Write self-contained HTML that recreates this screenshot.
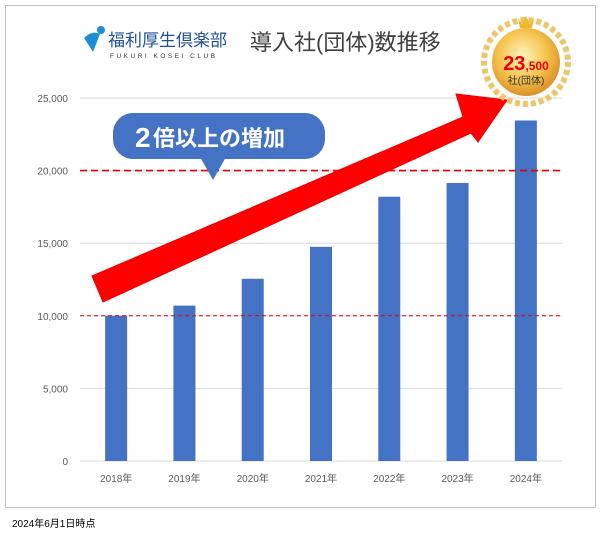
<!DOCTYPE html>
<html><head><meta charset="utf-8"><style>
body{margin:0;background:#fff;width:602px;height:533px;overflow:hidden;font-family:"Liberation Sans","Noto Sans CJK JP",sans-serif}
</style></head><body>
<svg width="602" height="533" xmlns="http://www.w3.org/2000/svg" font-family="Liberation Sans, Noto Sans CJK JP, sans-serif">
<defs>
<radialGradient id="gold" cx="45%" cy="40%" r="60%"><stop offset="0" stop-color="#fff4c0"/><stop offset="0.6" stop-color="#f6c24a"/><stop offset="1" stop-color="#d9922a"/></radialGradient>
</defs>
<rect x="5.5" y="5.5" width="590" height="502" fill="#fff" stroke="#bfbfbf"/>
<g>
<path d="M84 38 Q92 30 100 34 L93 52 Z" fill="#1a8fd8"/>
<circle cx="101" cy="30" r="4" fill="#1a8fd8"/>
<text x="108" y="46" font-size="17" fill="#1f4e9a">福利厚生倶楽部</text>
<text x="110" y="58" font-size="6.5" fill="#333" letter-spacing="2.5">FUKURI KOSEI CLUB</text>
</g>
<text x="250" y="50" font-size="22" fill="#404040">導入社(団体)数推移</text>
<g id="grid"></g>
<g id="bars"></g>
<g id="ticks"></g>
<g>
<polygon points="92,276 463,117 456,94 507,100 478,142 471,133 103,302" fill="#ff0000" stroke="#e00" stroke-width="1"/>
</g>
<g>
<rect x="113" y="113" width="212" height="46" rx="20" fill="#4472c4"/>
<polygon points="200,157 226,157 213,180" fill="#4472c4"/>
<text x="135" y="147" font-size="28" font-weight="bold" fill="#fff">2</text><text x="153" y="146" font-size="22" font-weight="bold" fill="#fff">倍以上の増加</text>
</g>
<g>
<circle cx="526" cy="62" r="42" fill="none" stroke="#edc56a" stroke-width="6" stroke-dasharray="5 3"/>
<circle cx="526" cy="62" r="34" fill="url(#gold)"/>
<polygon points="518,18 522,24 526,16 530,24 534,18 532,28 520,28" fill="#f0b830"/>
<text x="526" y="70" text-anchor="middle" fill="#e00" font-weight="bold"><tspan font-size="20">23</tspan><tspan font-size="12">,500</tspan></text>
<text x="526" y="84" text-anchor="middle" font-size="10" fill="#333">社(団体)</text>
</g>
<text x="12" y="527" font-size="10" fill="#000">2024年6月1日時点</text>
<script>
const categories=["2018年","2019年","2020年","2021年","2022年","2023年","2024年"];
const values=[10000,10700,12550,14750,18200,19150,23450];
const yTicks=[0,5000,10000,15000,20000,25000];
const yTickLabels=["0","5,000","10,000","15,000","20,000","25,000"];
const refLines=[10000,20000];
const NS="http://www.w3.org/2000/svg";
const x0=82,x1=560,yBase=461,yTop=98,yMax=25000;
const y=v=>yBase-(v/yMax)*(yBase-yTop);
const band=(x1-x0)/categories.length;
const xc=i=>x0+band*(i+0.5);
function mk(t,a,p){const e=document.createElementNS(NS,t);for(const k in a)e.setAttribute(k,a[k]);p.appendChild(e);return e;}
const grid=document.getElementById('grid'),bars=document.getElementById('bars'),ticks=document.getElementById('ticks');
yTicks.forEach((v,i)=>{
 const l=mk('line',{x1:80,x2:562,y1:y(v),y2:y(v),stroke:'#d9d9d9'},grid);
 
 
 const t=mk('text',{x:68,y:y(v)+4,'text-anchor':'end','font-size':'10',fill:'#595959'},ticks);
 t.textContent=yTickLabels[i];
 
 
});
categories.forEach((c,i)=>{
 const r=mk('rect',{x:xc(i)-11,y:y(values[i]),width:22,height:yBase-y(values[i]),fill:'#4472c4'},bars);
 
 
 const t=mk('text',{x:xc(i),y:482,'text-anchor':'middle','font-size':'10',fill:'#595959'},ticks);
 t.textContent=c;
 
 
});
refLines.forEach((v,i)=>{
 const l=mk('line',{x1:80,x2:562,y1:y(v),y2:y(v),stroke:'#e00000','stroke-width':i?1.6:1,'stroke-dasharray':i?'7 4':'4 3'},bars);
 
 
});
</script>
</svg>
</body></html>
